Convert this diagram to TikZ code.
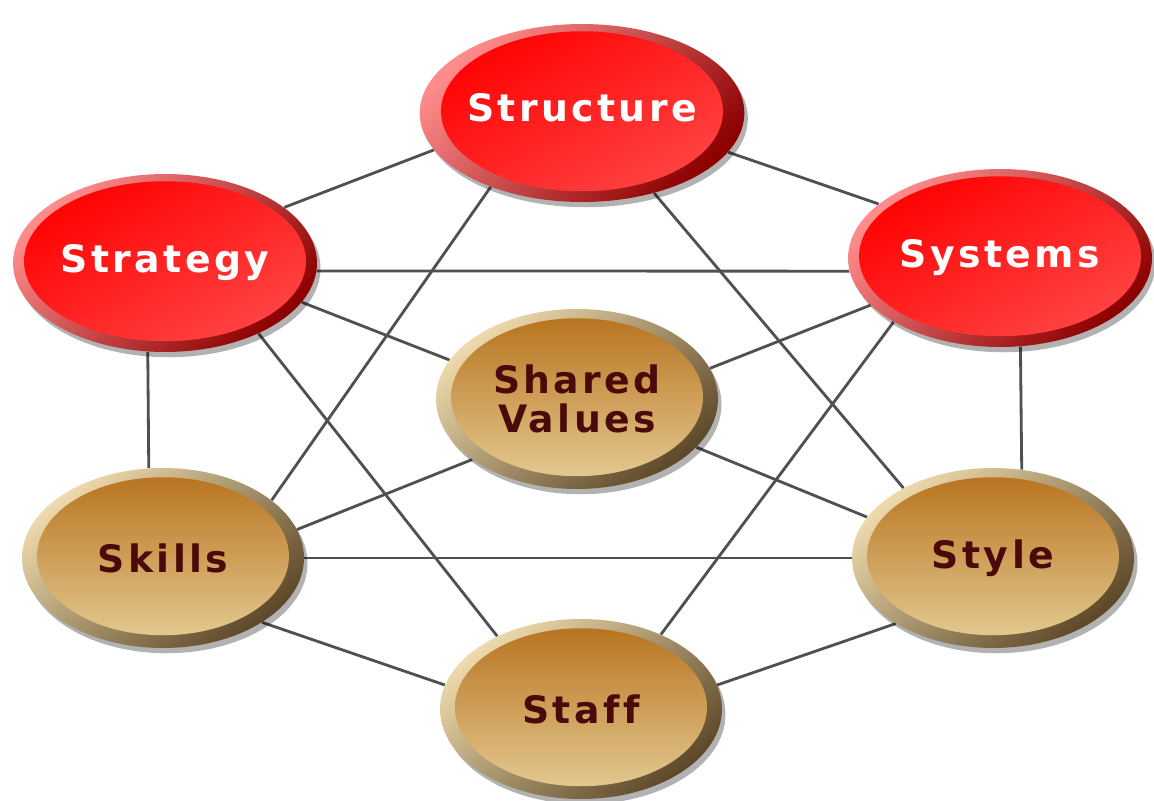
\documentclass[tikz,border=0pt]{standalone}
\usepackage{fontspec}
\usetikzlibrary{shapes.geometric,backgrounds}

\newfontfamily\ballfont[LetterSpace=9,Ligatures=NoCommon]{DejaVu Sans}

\definecolor{redface}{RGB}{255,0,0}
\definecolor{redglow}{RGB}{255,70,70}
\definecolor{redrim}{RGB}{255,140,140}
\definecolor{reddeep}{RGB}{140,0,0}
\definecolor{tantop}{RGB}{182,112,26}
\definecolor{tanlow}{RGB}{230,206,152}
\definecolor{tanrim}{RGB}{238,218,172}
\definecolor{tandeep}{RGB}{92,72,40}
\definecolor{tantext}{RGB}{74,10,10}
\definecolor{linegray}{RGB}{80,80,80}

\tikzset{
  ball/.style={ellipse, inner sep=0pt, align=center,
    font=\ballfont\bfseries\fontsize{21.5}{22}\selectfont,
    preaction={fill=black, opacity=0.3, transform canvas={shift={(2pt,-3pt)}}}},
  redball/.style={ball, minimum width=6.08cm, minimum height=3.56cm,
    text=white, top color=redrim, bottom color=reddeep, shading angle=45,
    path picture={\shade[top color=redface, bottom color=redglow, shading angle=30]
      ([yshift=1pt]path picture bounding box.center) ellipse (2.82cm and 1.6cm);}},
  tanball/.style={ball, minimum width=5.64cm, minimum height=3.6cm,
    text=tantext, top color=tanrim, bottom color=tandeep, shading angle=40,
    path picture={\shade[top color=tantop, bottom color=tanlow]
      ([yshift=1pt]path picture bounding box.center) ellipse (2.52cm and 1.58cm);}},
  link/.style={draw=linegray, line width=1.6pt},
}

\begin{document}
\begin{tikzpicture}[x=0.02cm,y=-0.02cm]
    \useasboundingbox (0,0) rectangle (1154,801);
    % hard S's
    \node[redball] (struct) at (582,113) {\raisebox{0.22cm}{Structure}};
    \node[redball] (strat) at (165,263) {Strategy};
    \node[redball] (sys) at (1000,258) {Systems};
    % soft S's
    \node[tanball] (shared) at (577,399) {Shared\\Values};
    \node[tanball] (skills) at (163,558) {Skills};
    \node[tanball] (style) at (993,558) {Style};
    \node[tanball] (staff) at (581,709) {\raisebox{-0.14cm}{Staff}};

    \begin{scope}[on background layer]
    \fill[white] (0,0) rectangle (1154,801);
    \draw[link] (strat.25.5) -- (struct.194.3);
    \draw[link] (struct.345) -- (sys.156.3);
    \draw[link] (strat.-3.7) -- (sys.185.6);
    \draw[link] (strat.259.3) -- (skills.99.5);
    \draw[link] (sys.283.4) -- (style.72.5);
    \draw[link] (strat.-16.9) -- (shared.163.5);
    \draw[link] (sys.200.9) -- (shared.13.3);
    \draw[link] (strat.-37.1) -- (staff.139.5);
    \draw[link] (struct.219.3) -- (skills.28.6);
    \draw[link] (struct.312.3) -- (style.142);
    \draw[link] (sys.211.3) -- (staff.43.6);
    \draw[link] (shared.210.5) -- (skills.12);
    \draw[link] (shared.338.6) -- (style.162.4);
    \draw[link] (skills.east) -- (style.west);
    \draw[link] (skills.-33.8) -- (staff.170.4);
    \draw[link] (style.214.6) -- (staff.10.7);
    \end{scope}
\end{tikzpicture}
\end{document}
